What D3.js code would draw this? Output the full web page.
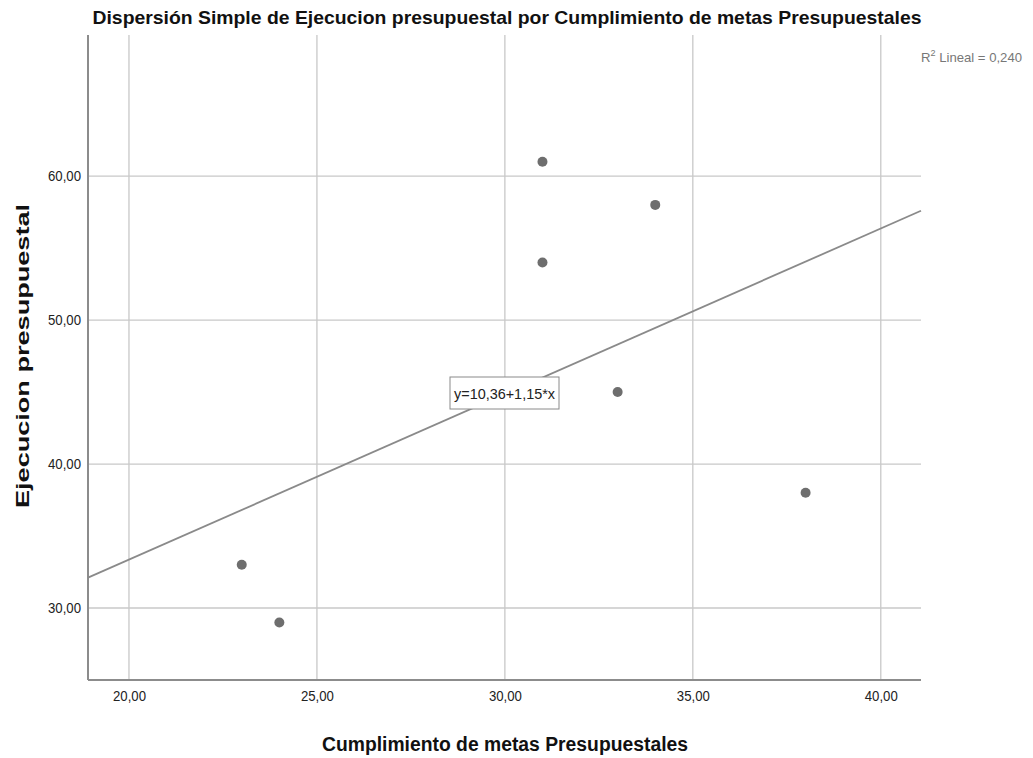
<!DOCTYPE html>
<html><head><meta charset="utf-8">
<script src="https://cdn.jsdelivr.net/npm/d3@7"></script>
<style>body{margin:0;background:#fff;} svg{display:block;}</style>
</head><body>
<svg id="c" width="1033" height="758"></svg>
<script>
const cumplimiento = [23, 24, 31, 31, 33, 34, 38];
const ejecucion = [33, 29, 61, 54, 45, 58, 38];
const xTicks = [20, 25, 30, 35, 40];
const yTicks = [30, 40, 50, 60];
const intercept = 10.36, slope = 1.15, r2 = "0,240";
const title = "Dispersión Simple de Ejecucion presupuestal por Cumplimiento de metas Presupuestales";
const xTitle = "Cumplimiento de metas Presupuestales";
const yTitle = "Ejecucion presupuestal";

const svg = d3.select("#c");
const L = 88, R = 921, T = 35, B = 680;
const x = d3.scaleLinear().domain([18.91, 41.07]).range([L, R]);
const y = d3.scaleLinear().domain([25, 69.8]).range([B, T]);
const fmt = v => d3.format(".2f")(v).replace(".", ",");
const font = "'Liberation Sans', Arial, sans-serif";

// gridlines
svg.append("g").selectAll("line").data(xTicks).join("line")
  .attr("x1", d => x(d)).attr("x2", d => x(d)).attr("y1", T).attr("y2", B)
  .attr("stroke", "#c8c8c8").attr("stroke-width", 1.3);
svg.append("g").selectAll("line").data(yTicks).join("line")
  .attr("x1", L).attr("x2", R).attr("y1", d => y(d)).attr("y2", d => y(d))
  .attr("stroke", "#c8c8c8").attr("stroke-width", 1.3);

// axes
const xa = svg.append("g").attr("transform", `translate(0,${B})`)
  .call(d3.axisBottom(x).tickValues(xTicks).tickFormat(fmt).tickSize(0).tickPadding(11));
const ya = svg.append("g").attr("transform", `translate(${L},0)`)
  .call(d3.axisLeft(y).tickValues(yTicks).tickFormat(fmt).tickSize(0).tickPadding(7));
[xa, ya].forEach(a => {
  a.select(".domain").attr("stroke", "#8c8c8c").attr("stroke-width", 2);
  a.selectAll("text").attr("font-family", font).attr("font-size", 14).attr("fill", "#222")
    .attr("textLength", 33).attr("lengthAdjust", "spacingAndGlyphs");
});
xa.select(".domain").attr("d", `M${L},0H${R}`);
ya.select(".domain").attr("d", `M0,${T}V${B}`);

// regression line
svg.append("line")
  .attr("x1", x(18.91)).attr("y1", y(intercept + slope * 18.91))
  .attr("x2", x(41.07)).attr("y2", y(intercept + slope * 41.07))
  .attr("stroke", "#8a8a8a").attr("stroke-width", 1.8);

// points
svg.append("g").selectAll("circle").data(cumplimiento).join("circle")
  .attr("cx", d => x(d)).attr("cy", (d, i) => y(ejecucion[i])).attr("r", 5)
  .attr("fill", "#6e6e6e");

// equation box
svg.append("rect").attr("x", 450).attr("y", 377).attr("width", 109).attr("height", 32)
  .attr("fill", "#fff").attr("stroke", "#8a8a8a").attr("stroke-width", 1);
svg.append("text").attr("x", 504.5).attr("y", 399).attr("text-anchor", "middle")
  .attr("font-family", font).attr("font-size", 15.5).attr("fill", "#222")
  .attr("textLength", 101).attr("lengthAdjust", "spacingAndGlyphs")
  .text(`y=${fmt(intercept)}+${fmt(slope)}*x`);

// R2 label
const rt = svg.append("text").attr("x", 921).attr("y", 62)
  .attr("font-family", font).attr("font-size", 13).attr("fill", "#777")
  .attr("textLength", 101).attr("lengthAdjust", "spacingAndGlyphs");
rt.append("tspan").text("R");
rt.append("tspan").attr("dy", -6).attr("font-size", 9).text("2");
rt.append("tspan").attr("dy", 6).text(" Lineal = " + r2);

// titles
svg.append("text").attr("x", 507).attr("y", 24).attr("text-anchor", "middle")
  .attr("font-family", font).attr("font-size", 19).attr("font-weight", "bold").attr("fill", "#111")
  .attr("textLength", 829).attr("lengthAdjust", "spacingAndGlyphs").text(title);
svg.append("text").attr("x", 505).attr("y", 751).attr("text-anchor", "middle")
  .attr("font-family", font).attr("font-size", 19.5).attr("font-weight", "bold").attr("fill", "#111")
  .attr("textLength", 366).attr("lengthAdjust", "spacingAndGlyphs").text(xTitle);
svg.append("text").attr("transform", "translate(29,356) rotate(-90)").attr("text-anchor", "middle")
  .attr("font-family", font).attr("font-size", 19).attr("font-weight", "bold").attr("fill", "#111")
  .attr("textLength", 304).attr("lengthAdjust", "spacingAndGlyphs").text(yTitle);
</script>
</body></html>
